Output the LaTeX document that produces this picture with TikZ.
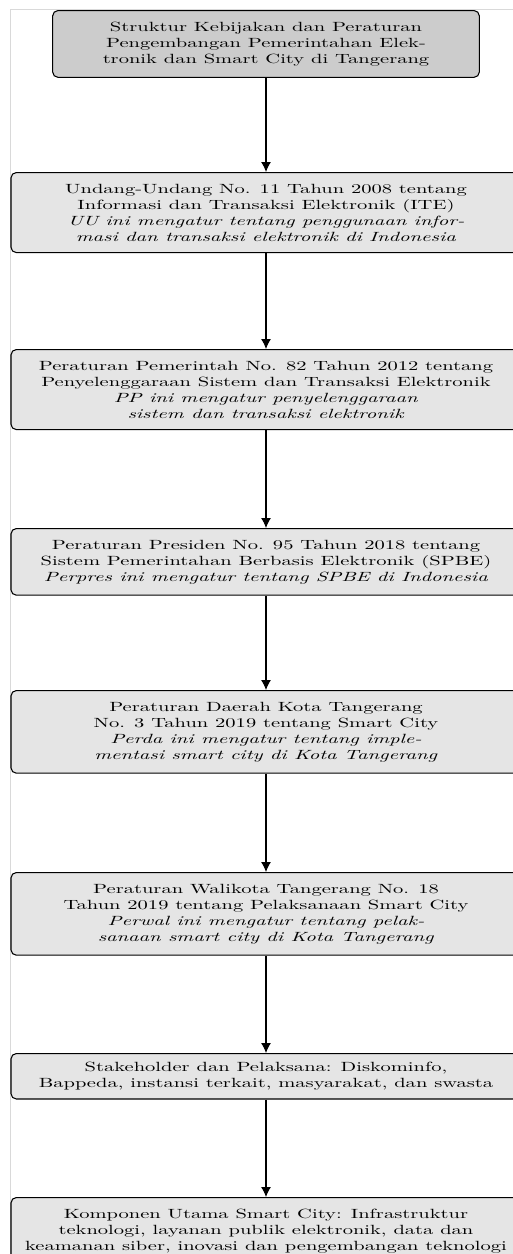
\documentclass[tikz,border=0pt]{standalone}
\usepackage{fontspec}
\setmainfont{lmroman10-regular.otf}[
  ItalicFont=lmroman10-italic.otf,
  BoldFont=lmroman10-bold.otf,
  FakeStretch=1.54]
\usetikzlibrary{arrows.meta}

\tikzset{
  box/.style={draw, line width=0.8pt, rounded corners=4pt, fill=gray!20,
    align=center, minimum width=382.5pt, inner ysep=8.5pt, anchor=north},
  judulbox/.style={box, fill=gray!40, minimum width=320pt},
}

\begin{document}
\begin{tikzpicture}[x=0.75pt, y=-0.75pt, >={Latex[length=7.5pt,width=7.5pt]}]
  \useasboundingbox (0,0) rectangle (513,1254);
  \draw[gray!30, line width=0.75pt] (10,1254) -- (10,9.5) -- (513,9.5);

  \node[judulbox] (judul) at (266,10) {Struktur Kebijakan dan Peraturan\\
    Pengembangan Pemerintahan Elek-\\tronik dan Smart City di Tangerang};
  \node[box] (uu) at (266,172) {Undang-Undang No. 11 Tahun 2008 tentang\\
    Informasi dan Transaksi Elektronik (ITE)\\
    \textit{UU ini mengatur tentang penggunaan infor-}\\
    \textit{masi dan transaksi elektronik di Indonesia}};
  \node[box] (pp) at (266,349) {Peraturan Pemerintah No. 82 Tahun 2012 tentang\\
    Penyelenggaraan Sistem dan Transaksi Elektronik\\
    \textit{PP ini mengatur penyelenggaraan}\\
    \textit{sistem dan transaksi elektronik}};
  \node[box] (perpres) at (266,528) {Peraturan Presiden No. 95 Tahun 2018 tentang\\
    Sistem Pemerintahan Berbasis Elektronik (SPBE)\\
    \textit{Perpres ini mengatur tentang SPBE di Indonesia}};
  \node[box] (perda) at (266,690) {Peraturan Daerah Kota Tangerang\\
    No. 3 Tahun 2019 tentang Smart City\\
    \textit{Perda ini mengatur tentang imple-}\\
    \textit{mentasi smart city di Kota Tangerang}};
  \node[box] (perwal) at (266,872) {Peraturan Walikota Tangerang No. 18\\
    Tahun 2019 tentang Pelaksanaan Smart City\\
    \textit{Perwal ini mengatur tentang pelak-}\\
    \textit{sanaan smart city di Kota Tangerang}};
  \node[box, inner ysep=6.5pt] (pelaksana) at (266,1053) {Stakeholder dan Pelaksana: Diskominfo,\\
    Bappeda, instansi terkait, masyarakat, dan swasta};
  \node[box] (komponen) at (266,1197) {Komponen Utama Smart City: Infrastruktur\\
    teknologi, layanan publik elektronik, data dan\\
    keamanan siber, inovasi dan pengembangan teknologi};

  % panah antar tingkat
  \foreach \a/\b in {judul/uu, uu/pp, pp/perpres, perpres/perda,
                     perda/perwal, perwal/pelaksana, pelaksana/komponen}
    \draw[->, line width=0.8pt] (\a.south) -- (\b.north);
\end{tikzpicture}
\end{document}
